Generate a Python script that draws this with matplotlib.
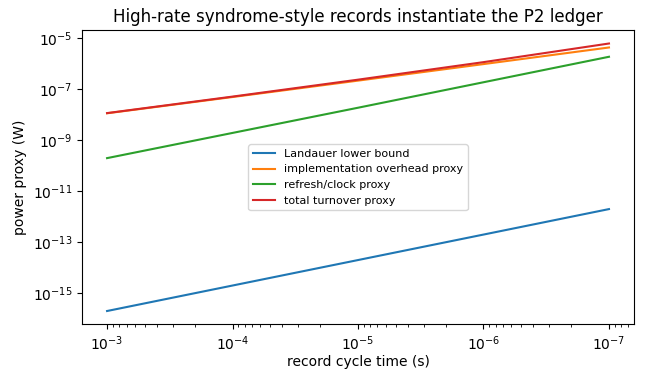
import matplotlib
matplotlib.use("Agg")
import matplotlib.pyplot as plt

cycle_time = [1e-3, 1e-4, 1e-5, 1e-6, 1e-7]
landauer = [2.0e-16, 2.0e-15, 2.0e-14, 2.0e-13, 2.0e-12]
overhead = [1.15e-8, 5.0e-8, 2.2e-7, 9.8e-7, 4.4e-6]
refresh = [2.0e-10, 1.95e-9, 1.9e-8, 1.9e-7, 1.9e-6]
total = [1.17e-8, 5.2e-8, 2.4e-7, 1.17e-6, 6.3e-6]

labels = ["Landauer lower bound", "implementation overhead proxy",
          "refresh/clock proxy", "total turnover proxy"]

fig = plt.figure(figsize=(6.48, 3.72), dpi=100)
ax = fig.add_axes([0.1265, 0.128, 0.852, 0.791])
for ys, lab in zip([landauer, overhead, refresh, total], labels):
    ax.plot(cycle_time, ys, label=lab, lw=1.5)
ax.set_xscale("log")
ax.set_yscale("log")
ax.invert_xaxis()
ax.set_xlabel("record cycle time (s)", labelpad=2)
ax.set_ylabel("power proxy (W)")
ax.set_title("High-rate syndrome-style records instantiate the P2 ledger")
ax.legend(loc="center", fontsize=8)
fig.savefig("out.png", dpi=100)
